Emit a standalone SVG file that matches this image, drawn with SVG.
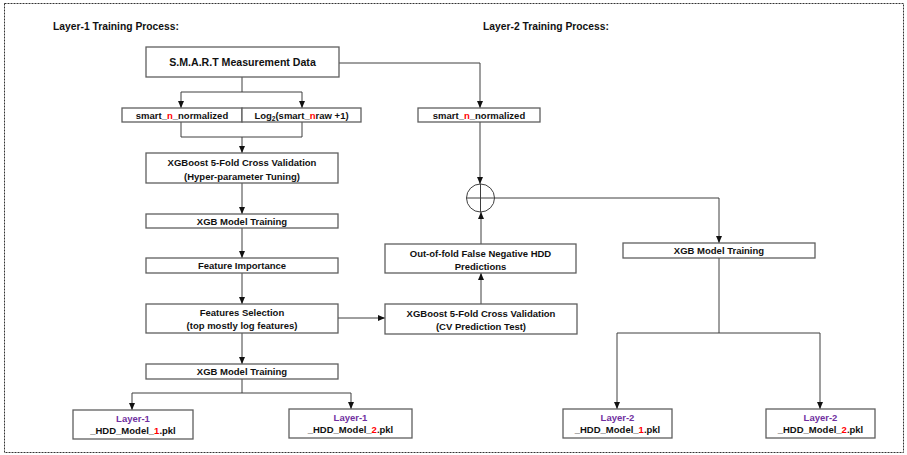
<svg xmlns="http://www.w3.org/2000/svg" width="907" height="455" viewBox="0 0 907 455">
  <style>
    .box { fill: #ffffff; stroke: #5f5f5f; stroke-width: 1.3; }
    .lbl { font-family: "Liberation Sans", Arial, sans-serif; font-weight: bold; font-size: 9.5px; fill: #111111; text-anchor: middle; }
    .big { font-size: 10.6px; }
    .head { font-family: "Liberation Sans", Arial, sans-serif; font-weight: bold; font-size: 10.3px; fill: #111111; }
    .red { fill: #ff0000; }
    .purple { fill: #7030a0; }
    .wire { fill: none; stroke: #3f3f3f; stroke-width: 1; }
    .arr { marker-end: url(#tip); }
  </style>
  <defs>
    <marker id="tip" markerUnits="userSpaceOnUse" markerWidth="7" markerHeight="7" viewBox="0 0 7 7" refX="7" refY="3.5" orient="auto">
      <path d="M0,0.5 L7,3.5 L0,6.5 Z" fill="#111111"/>
    </marker>
  </defs>

  <rect x="0" y="0" width="907" height="455" fill="#ffffff"/>
  <!-- outer dashed frame -->
  <rect x="4.5" y="3.5" width="899" height="449" fill="none" stroke="#333333" stroke-width="1" stroke-dasharray="2,1"/>

  <text class="head" x="53" y="30">Layer-1 Training Process:</text>
  <text class="head" x="483" y="30">Layer-2 Training Process:</text>

  <!-- connectors -->
  <g id="connectors">
    <!-- S.M.A.R.T split -->
    <polyline class="wire" points="242,77 242,92"/>
    <polyline class="wire arr" points="242,92 181,92 181,108"/>
    <polyline class="wire arr" points="242,92 302,92 302,108"/>
    <polyline class="wire arr" points="339,63 480,63 480,108"/>
    <!-- merge of both feature sets -->
    <polyline class="wire" points="181,122 181,137 302,137 302,122"/>
    <polyline class="wire arr" points="242,137 242,153"/>
    <!-- left chain -->
    <polyline class="wire arr" points="242,183 242,214"/>
    <polyline class="wire arr" points="242,228 242,258"/>
    <polyline class="wire arr" points="242,273 242,304"/>
    <polyline class="wire arr" points="242,333 242,364"/>
    <polyline class="wire" points="242,379 242,393"/>
    <polyline class="wire arr" points="242,393 132,393 132,410"/>
    <polyline class="wire arr" points="242,393 351,393 351,409"/>
    <!-- to layer-2 CV -->
    <polyline class="wire arr" points="338,318 385,318"/>
    <polyline class="wire arr" points="481,304 481,273"/>
    <polyline class="wire arr" points="481,244 481,212"/>
    <polyline class="wire arr" points="480,122 480,184"/>
    <!-- layer-2 chain -->
    <polyline class="wire arr" points="494,198 719,198 719,243"/>
    <polyline class="wire" points="719,258 719,333"/>
    <polyline class="wire arr" points="719,333 617,333 617,409"/>
    <polyline class="wire arr" points="719,333 820,333 820,409"/>
  </g>

  <g id="smart-data">
    <rect class="box" x="146" y="47" width="193" height="30"/>
    <text class="lbl big" x="242.5" y="66">S.M.A.R.T Measurement Data</text>
  </g>

  <g id="smart-normalized-l1">
    <rect class="box" x="122" y="108" width="120" height="14"/>
    <text class="lbl" x="182" y="118.5">smart_<tspan class="red">n</tspan>_normalized</text>
  </g>

  <g id="smart-log">
    <rect class="box" x="242" y="108" width="119" height="14"/>
    <text class="lbl" x="301.5" y="118.5">Log<tspan font-size="6.5" dy="2">2</tspan><tspan dy="-2">(smart_</tspan><tspan class="red">n</tspan>raw +1)</text>
  </g>

  <g id="xgb-cv-tuning">
    <rect class="box" x="146" y="153" width="192" height="30"/>
    <text class="lbl" x="242" y="165.5">XGBoost 5-Fold Cross Validation</text>
    <text class="lbl" x="242" y="179.5">(Hyper-parameter Tuning)</text>
  </g>

  <g id="xgb-train-1">
    <rect class="box" x="146" y="214" width="192" height="14"/>
    <text class="lbl" x="242" y="224.5">XGB Model Training</text>
  </g>

  <g id="feature-importance">
    <rect class="box" x="146" y="258" width="192" height="15"/>
    <text class="lbl" x="242" y="269">Feature Importance</text>
  </g>

  <g id="feature-selection">
    <rect class="box" x="146" y="304" width="192" height="29"/>
    <text class="lbl" x="242" y="315.5">Features Selection</text>
    <text class="lbl" x="242" y="328.5">(top mostly log features)</text>
  </g>

  <g id="xgb-train-2">
    <rect class="box" x="146" y="364" width="192" height="15"/>
    <text class="lbl" x="242" y="375">XGB Model Training</text>
  </g>

  <g id="l1-model-1">
    <rect class="box" x="73" y="410" width="120" height="29"/>
    <text class="lbl purple" x="133" y="421.5">Layer-1</text>
    <text class="lbl" x="133" y="434">_HDD_Model_<tspan class="red">1</tspan>.pkl</text>
  </g>

  <g id="l1-model-2">
    <rect class="box" x="289" y="409" width="123" height="29"/>
    <text class="lbl purple" x="350.5" y="420.5">Layer-1</text>
    <text class="lbl" x="350.5" y="433">_HDD_Model_<tspan class="red">2</tspan>.pkl</text>
  </g>

  <g id="smart-normalized-l2">
    <rect class="box" x="418" y="108" width="122" height="14"/>
    <text class="lbl" x="479" y="118.5">smart_<tspan class="red">n</tspan>_normalized</text>
  </g>

  <g id="sum-node">
    <circle cx="480.5" cy="198" r="14" fill="#ffffff" stroke="#3f3f3f" stroke-width="1"/>
    <line x1="466.5" y1="198" x2="494.5" y2="198" stroke="#3f3f3f" stroke-width="1"/>
    <line x1="480.5" y1="184" x2="480.5" y2="212" stroke="#3f3f3f" stroke-width="1"/>
  </g>

  <g id="oof-predictions">
    <rect class="box" x="385" y="244" width="191" height="29"/>
    <text class="lbl" x="480.5" y="256.5">Out-of-fold False Negative HDD</text>
    <text class="lbl" x="480.5" y="270">Predictions</text>
  </g>

  <g id="xgb-cv-test">
    <rect class="box" x="385" y="304" width="192" height="30"/>
    <text class="lbl" x="481" y="316.5">XGBoost 5-Fold Cross Validation</text>
    <text class="lbl" x="481" y="329.5">(CV Prediction Test)</text>
  </g>

  <g id="xgb-train-l2">
    <rect class="box" x="623" y="243" width="192" height="15"/>
    <text class="lbl" x="719" y="254">XGB Model Training</text>
  </g>

  <g id="l2-model-1">
    <rect class="box" x="563" y="409" width="109" height="29"/>
    <text class="lbl purple" x="617.5" y="420.5">Layer-2</text>
    <text class="lbl" x="617.5" y="433">_HDD_Model_<tspan class="red">1</tspan>.pkl</text>
  </g>

  <g id="l2-model-2">
    <rect class="box" x="766" y="409" width="109" height="29"/>
    <text class="lbl purple" x="820.5" y="420.5">Layer-2</text>
    <text class="lbl" x="820.5" y="433">_HDD_Model_<tspan class="red">2</tspan>.pkl</text>
  </g>
</svg>
